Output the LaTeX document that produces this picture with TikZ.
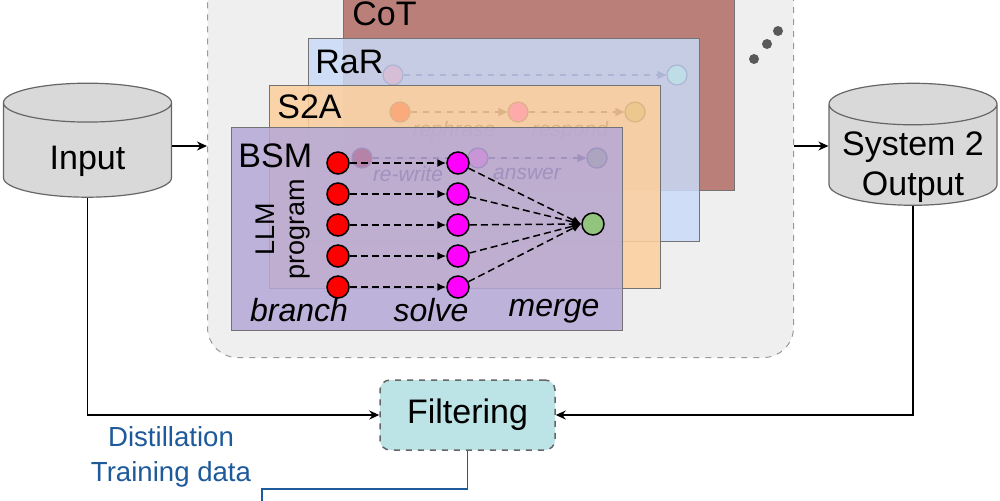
\documentclass[tikz,border=0pt]{standalone}
\usepackage{fontspec}
\setmainfont{Liberation Sans}
\usetikzlibrary{arrows.meta,shapes.geometric}
\definecolor{cotfill}{RGB}{177,108,101}
\definecolor{rarfill}{RGB}{202,218,249}
\definecolor{stwofill}{RGB}{254,207,156}
\definecolor{bsmfill}{RGB}{181,168,215}
\definecolor{panelgray}{RGB}{239,239,239}
\definecolor{filtfill}{RGB}{188,227,229}
\definecolor{distblue}{RGB}{30,90,155}
\definecolor{dbgray}{RGB}{217,217,217}
\definecolor{cotline}{RGB}{172,182,212}
\definecolor{rarline}{RGB}{222,178,135}
\definecolor{stwoline}{RGB}{160,146,190}
\definecolor{mergegreen}{RGB}{147,196,125}
\definecolor{solvemag}{RGB}{255,0,255}
\definecolor{branchred}{RGB}{255,0,0}

\begin{document}
\begin{tikzpicture}[x=0.5pt,y=-0.5pt,
  font=\fontsize{17}{20}\selectfont,
  panel/.style={draw=black!40,dashed,fill=panelgray,rounded corners=15pt,line width=0.5pt,
                minimum width=293pt,minimum height=200pt,inner sep=0pt},
  layer/.style={draw=black!55,line width=0.7pt,fill opacity=0.85,inner sep=0pt,
                minimum width=195.5pt,minimum height=101.5pt,anchor=north west},
  lyrlbl/.style={anchor=base west,inner sep=0pt},
  db/.style={cylinder,shape border rotate=90,aspect=0.44,draw=black!60,fill=dbgray,
             line width=0.6pt,minimum width=84pt,minimum height=57pt},
  ghost/.style={circle,inner sep=0pt,minimum size=10pt,line width=0.6pt},
  ghostarr/.style={dashed,line width=0.6pt,-{Triangle[length=4.5pt,width=4pt]}},
  ghostlbl/.style={font=\fontsize{10.5}{12}\selectfont\itshape},
  dot/.style={circle,draw,inner sep=0pt,minimum size=11pt,line width=0.75pt},
  darr/.style={line width=0.75pt,dash pattern=on 3.5pt off 2pt,-{Latex[length=4.5pt,width=4pt]}},
  conn/.style={line width=0.75pt,-{Stealth[length=5pt,width=4.5pt]}},
  filt/.style={draw=black!60,dashed,fill=filtfill,rounded corners=5pt,line width=0.75pt,
               minimum width=87.5pt,minimum height=35pt},
  steplbl/.style={anchor=base,font=\fontsize{16}{18}\selectfont\itshape}
]
\useasboundingbox (0,0) rectangle (1000,500);
\clip (0,0) rectangle (1000,500);

% outer panel
\node[panel,anchor=south west] (panel) at (207,358) {};

% stacked method layers
\node[layer,fill=cotfill] (cot) at (343,-13) {};
\node[lyrlbl] (cotlbl) at (352,25) {CoT};

\node[layer,fill=rarfill] (rar) at (308,38) {};
\node[lyrlbl] (rarlbl) at (315,73) {RaR};
\node[ghost,draw=cotline,fill={rgb,255:red,214;green,190;blue,215}] (c1) at (393,75) {};
\node[ghost,draw=cotline,fill={rgb,255:red,190;green,221;blue,230}] (c2) at (677,75) {};
\draw[ghostarr,draw=cotline,fill=cotline] (c1) -- (c2);

\node[layer,fill=stwofill] (stwo) at (269,85) {};
\node[lyrlbl] (stwolbl) at (277,118) {S2A};
\node[ghost,draw=rarline,fill={rgb,255:red,250;green,170;blue,125}] (r1) at (400,112) {};
\node[ghost,draw=rarline,fill={rgb,255:red,252;green,170;blue,170}] (r2) at (518,112) {};
\node[ghost,draw=rarline,fill={rgb,255:red,234;green,200;blue,142}] (r3) at (635,112) {};
\draw[ghostarr,draw=rarline,fill=rarline] (r1) -- (r2);
\draw[ghostarr,draw=rarline,fill=rarline] (r2) -- (r3);
\node[ghostlbl,text=rarline] (rephr) at (454,131) {rephrase};
\node[ghostlbl,text=rarline] (resp) at (570,131) {respond};

\node[layer,fill=bsmfill] (bsm) at (231,127) {};
\node[lyrlbl] (bsmlbl) at (238,167) {BSM};
\node[ghost,draw=stwoline,fill={rgb,255:red,183;green,130;blue,168}] (s1) at (362,158) {};
\node[ghost,draw=stwoline,fill={rgb,255:red,200;green,150;blue,215}] (s2) at (478,158) {};
\node[ghost,draw=stwoline,fill={rgb,255:red,172;green,165;blue,192}] (s3) at (597,158) {};
\draw[ghostarr,draw=stwoline,fill=stwoline] (s1) -- (s2);
\draw[ghostarr,draw=stwoline,fill=stwoline] (s2) -- (s3);
\node[ghostlbl,text=stwoline] (rewr) at (408,174) {re-write};
\node[ghostlbl,text=stwoline] (answ) at (527,174) {answer};

% branch - solve - merge
\node[dot,fill=mergegreen] (mrg) at (593,224) {};
\foreach \i/\y in {1/163,2/194,3/225,4/256,5/287}{
  \node[dot,fill=branchred] (b\i) at (338,\y) {};
  \node[dot,fill=solvemag] (s\i) at (458,\y) {};
  \draw[darr] (b\i) -- (s\i);
  \draw[darr] (s\i) -- (mrg.west);
}
\node[rotate=90,align=center,font=\fontsize{13.5}{15}\selectfont] (prog) at (283,229) {LLM\\program};
\node[steplbl] (brl) at (299,321) {branch};
\node[steplbl] (svl) at (431,321) {solve};
\node[steplbl] (mgl) at (554,316) {merge};

% more methods
\fill[black!65] (754,59) circle (5) (767,44) circle (5) (778,31) circle (5);

% data stores
\node[db] (input) at (87.5,154) {\hspace*{37.5pt}};
\node (inlbl) at (87.5,161) {Input};
\node[db,aspect=0.47,minimum height=61pt] (output) at (913,159) {\hspace*{37.5pt}};
\node[align=center] (outlbl) at (913,167) {System 2\\Output};

\draw[conn] ([yshift=4pt]input.east) -- ([yshift=4pt]input.east -| panel.west);
\draw[conn] ([yshift=6.5pt]output.west -| panel.east) -- ([yshift=6.5pt]output.west);

% filtering
\node[filt] (filter) at (467.5,415) {Filtering};
\draw[conn] (input.south) |- (filter.west);
\draw[conn] (output.south) |- (filter.east);

\coordinate (trainpt) at (262,515);
\draw[distblue,line width=0.75pt] (filter.south) -- (filter.south |- 0,489) -| (trainpt);
\node[text=distblue,align=center,font=\fontsize{13.8}{17.5}\selectfont] (dist) at (171,457) {Distillation\\Training data};
\end{tikzpicture}
\end{document}
